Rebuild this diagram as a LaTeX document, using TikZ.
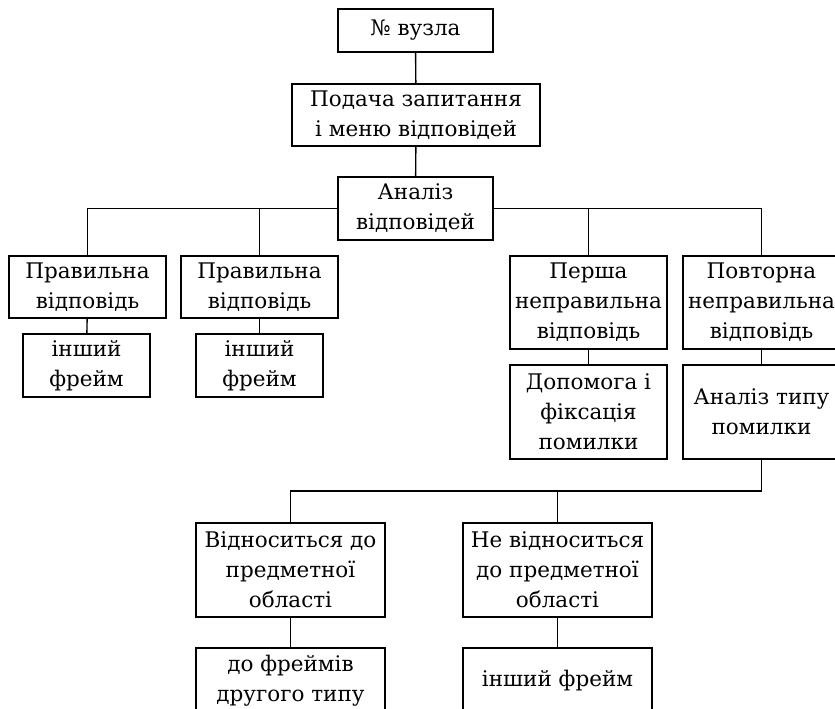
\documentclass[tikz,border=0pt]{standalone}
\usepackage{fontspec}
\setmainfont{DejaVu Serif}

\tikzset{
  frm/.style={draw, line width=1.4pt, align=center, inner sep=0pt,
    font=\fontsize{21.5}{30}\selectfont},
  lnk/.style={line width=1.4pt},
}

\begin{document}
\begin{tikzpicture}[x=1pt,y=-1pt]
  \clip (0,0) rectangle (835,709);

  % top of the frame
  \node[frm, minimum width=155, minimum height=43] (nom) at (415.5,30.5) {№ вузла};
  \node[frm, minimum width=248, minimum height=62] (podacha) at (416,115) {Подача запитання\\і меню відповідей};
  \node[frm, minimum width=155, minimum height=63] (analiz) at (415.5,208.5) {Аналіз\\відповідей};

  % answers
  \node[frm, minimum width=157, minimum height=62] (prav1) at (87.5,287) {Правильна\\відповідь};
  \node[frm, minimum width=157, minimum height=62] (prav2) at (259.5,287) {Правильна\\відповідь};
  \node[frm, minimum width=157, minimum height=93] (persha) at (588.5,302.5) {Перша\\неправильна\\відповідь};
  \node[frm, minimum width=157, minimum height=93] (povt) at (761.5,302.5) {Повторна\\неправильна\\відповідь};

  \node[frm, minimum width=127, minimum height=63] (insh1) at (86.5,365.5) {інший\\фрейм};
  \node[frm, minimum width=127, minimum height=63] (insh2) at (259.5,365.5) {інший\\фрейм};
  \node[frm, minimum width=157, minimum height=94] (dopom) at (588.5,412) {Допомога і\\фіксація\\помилки};
  \node[frm, minimum width=157, minimum height=94] (typ) at (761.5,412) {Аналіз типу\\помилки};

  % error type
  \node[frm, minimum width=189, minimum height=94] (vidn) at (290.5,570) {Відноситься до\\предметної\\області};
  \node[frm, minimum width=189, minimum height=94] (nevidn) at (557.5,570) {Не відноситься\\до предметної\\області};
  \node[frm, minimum width=189, minimum height=66] (drugyi) at (290.5,681) {до фреймів\\другого типу};
  \node[frm, minimum width=189, minimum height=66] (insh3) at (557.5,681) {інший фрейм};

  \coordinate (fork) at (761.5,491);

  \draw[lnk] (nom) -- (podacha);
  \draw[lnk] (podacha) -- (analiz);
  \draw[lnk] (analiz.west) -| (prav1.north);
  \draw[lnk] (analiz.west) -| (prav2.north);
  \draw[lnk] (analiz.east) -| (persha.north);
  \draw[lnk] (analiz.east) -| (povt.north);
  \draw[lnk] (prav1) -- (insh1);
  \draw[lnk] (prav2) -- (insh2);
  \draw[lnk] (persha) -- (dopom);
  \draw[lnk] (povt) -- (typ);
  \draw[lnk] (typ) -- (fork) -| (vidn.north);
  \draw[lnk] (fork) -| (nevidn.north);
  \draw[lnk] (vidn) -- (drugyi);
  \draw[lnk] (nevidn) -- (insh3);
\end{tikzpicture}
\end{document}
